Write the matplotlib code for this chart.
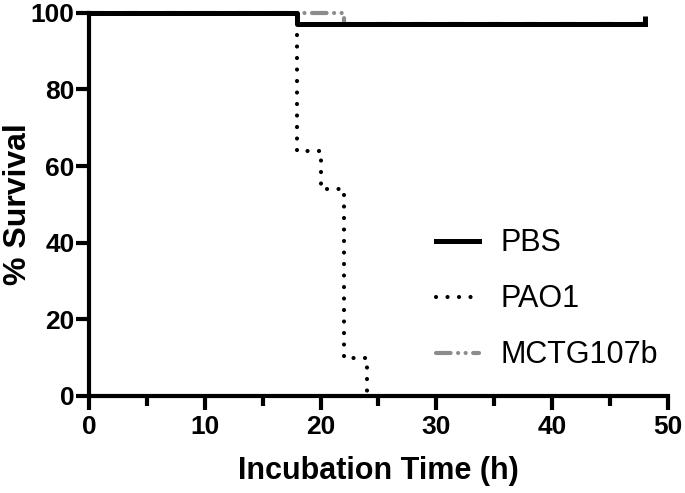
import matplotlib
matplotlib.use("Agg")
import matplotlib.pyplot as plt
from matplotlib.ticker import MultipleLocator

# survival curves (time in h, % survival)
PBS_TIME = [0, 18, 48]
PBS_SURV = [100, 97, 97]
PAO1_TIME = [0, 18, 20, 22, 24]
PAO1_SURV = [100, 64, 54, 10, 0]
MCTG_TIME = [0, 22, 48]
MCTG_SURV = [100, 97, 97]
X_TICKS = [0, 10, 20, 30, 40, 50]
Y_TICKS = [0, 20, 40, 60, 80, 100]

plt.rcParams['font.family'] = ['Liberation Sans', 'DejaVu Sans']

fig = plt.figure(figsize=(6.85, 4.93), dpi=100)
ax = fig.add_axes([0.130, 0.197, 0.845, 0.777])

ax.step(MCTG_TIME, MCTG_SURV, where="post", color="#8c8c8c", lw=3.0,
        linestyle=(0, (3.5, 1.8, 0.01, 1.8, 0.01, 1.8)),
        dash_capstyle="round", clip_on=False, zorder=2, label="MCTG107b")
ax.step(PAO1_TIME, PAO1_SURV, where="post", color="black", lw=3.0,
        linestyle=(0, (0.01, 2.75)), dash_capstyle="round",
        clip_on=False, zorder=3, label="PAO1")
ax.step(PBS_TIME, PBS_SURV, where="post", color="black", lw=3.6,
        clip_on=False, zorder=4, label="PBS")
# censor mark at the end of PBS
ax.plot([PBS_TIME[-1]], [PBS_SURV[-1]], marker=2, ms=6, mew=3.6,
        color="black", clip_on=False, zorder=4)

ax.set_xlim(0, 50)
ax.set_ylim(0, 100)
ax.set_xticks(X_TICKS)
ax.set_yticks(Y_TICKS)
ax.xaxis.set_minor_locator(MultipleLocator(5))

for side in ["top", "right"]:
    ax.spines[side].set_visible(False)
for side in ["left", "bottom"]:
    ax.spines[side].set_linewidth(3.0)

ax.tick_params(axis="x", which="major", length=10, width=3.0, pad=4,
               labelsize=19)
ax.tick_params(axis="x", which="minor", length=7, width=3.0)
ax.tick_params(axis="y", which="major", length=9.5, width=3.0, pad=1,
               labelsize=19)
for lbl in ax.get_xticklabels() + ax.get_yticklabels():
    lbl.set_fontweight("bold")

ax.set_xlabel("Incubation Time (h)", fontsize=22, fontweight="bold",
              labelpad=12)
ax.set_ylabel("% Survival", fontsize=23, fontweight="bold", va="center")
ax.yaxis.set_label_coords(-0.123, 0.5)

handles, labels = ax.get_legend_handles_labels()
order = [2, 1, 0]
ax.legend([handles[i] for i in order], [labels[i] for i in order],
          loc="center left", bbox_to_anchor=(0.573, 0.252), frameon=False,
          fontsize=22, handlelength=1.4, handletextpad=0.7,
          labelspacing=0.85, borderpad=0)

fig.savefig("out.png", dpi=100)
